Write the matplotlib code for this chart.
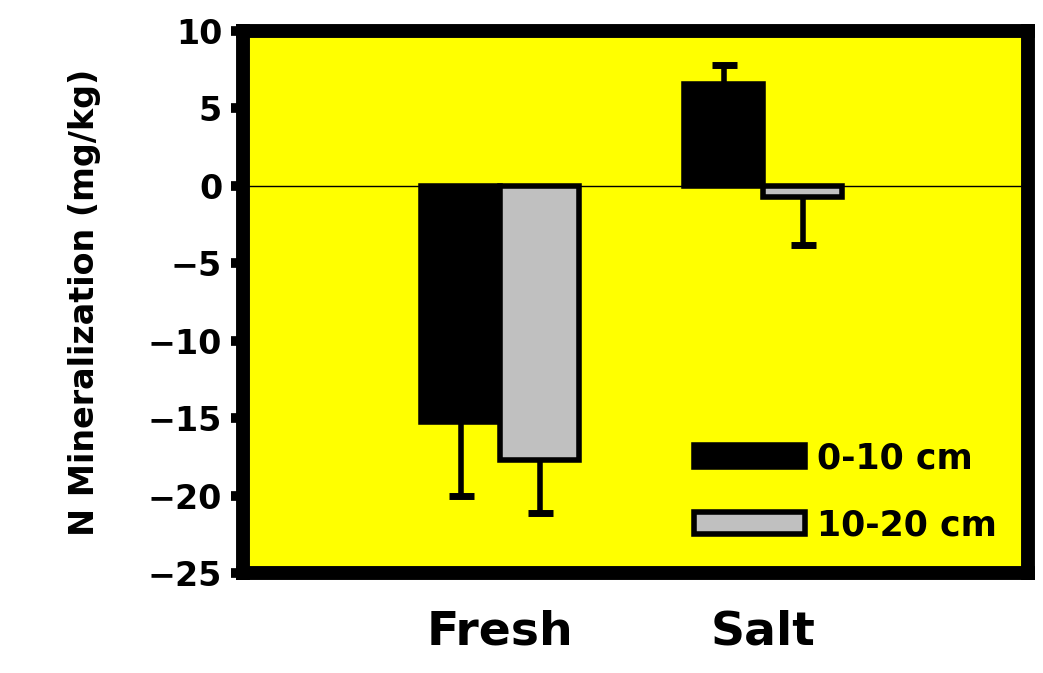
import matplotlib
matplotlib.use("Agg")
import matplotlib.pyplot as plt
import numpy as np

# values
sites = ["Fresh", "Salt"]
depths = ["0-10 cm", "10-20 cm"]
mean_0_10 = [-15.2, 6.6]
mean_10_20 = [-17.7, -0.7]
err_0_10 = [4.8, 1.2]
err_10_20 = [3.4, 3.1]

colors = ["black", "#c0c0c0"]

plt.rcParams["font.family"] = "DejaVu Sans"
plt.rcParams["font.weight"] = "bold"

fig = plt.figure(figsize=(10.43, 6.73), dpi=100)
ax = fig.add_axes([0.233, 0.148, 0.753, 0.806])
ax.set_facecolor("#ffff00")

x = np.arange(len(sites))
w = 0.30
for i, (vals, errs) in enumerate([(mean_0_10, err_0_10), (mean_10_20, err_10_20)]):
    pos = x - w / 2 + i * w
    ax.bar(pos, vals, w, color=colors[i], edgecolor="black", linewidth=4,
           label=depths[i], zorder=3)
    # one-sided error bars: from inside the bar out to the tip,
    # so the inner cap stays hidden behind the bar
    for p, v, e in zip(pos, vals, errs):
        tip = v + e if v >= 0 else v - e
        start = v / 2
        ax.errorbar(p, (start + tip) / 2, yerr=abs(tip - start) / 2, fmt="none",
                    ecolor="black", elinewidth=4, capsize=9, capthick=5, zorder=2)

ax.axhline(0, color="black", linewidth=1, zorder=1)

ax.set_xlim(-0.977, 2.008)
ax.set_ylim(-25, 10)
ax.set_yticks(np.arange(-25, 11, 5))
ax.set_xticks(x)
ax.set_xticklabels(sites, fontsize=34, fontweight="bold")
ax.tick_params(axis="x", length=0, pad=26)
ax.tick_params(axis="y", direction="out", length=9, width=7, labelsize=24, pad=6)
ax.set_ylabel("N Mineralization (mg/kg)", fontsize=24, fontweight="bold", labelpad=34)

for sp in ax.spines.values():
    sp.set_linewidth(10)
    sp.set_capstyle("projecting")

leg = ax.legend(loc="lower right", bbox_to_anchor=(1.0, 0.0), frameon=False,
                fontsize=25, handlelength=3.2, handleheight=0.6,
                labelspacing=0.95, handletextpad=0.35)
for t in leg.get_texts():
    t.set_fontweight("bold")

fig.savefig("out.png", dpi=100, facecolor="white")
